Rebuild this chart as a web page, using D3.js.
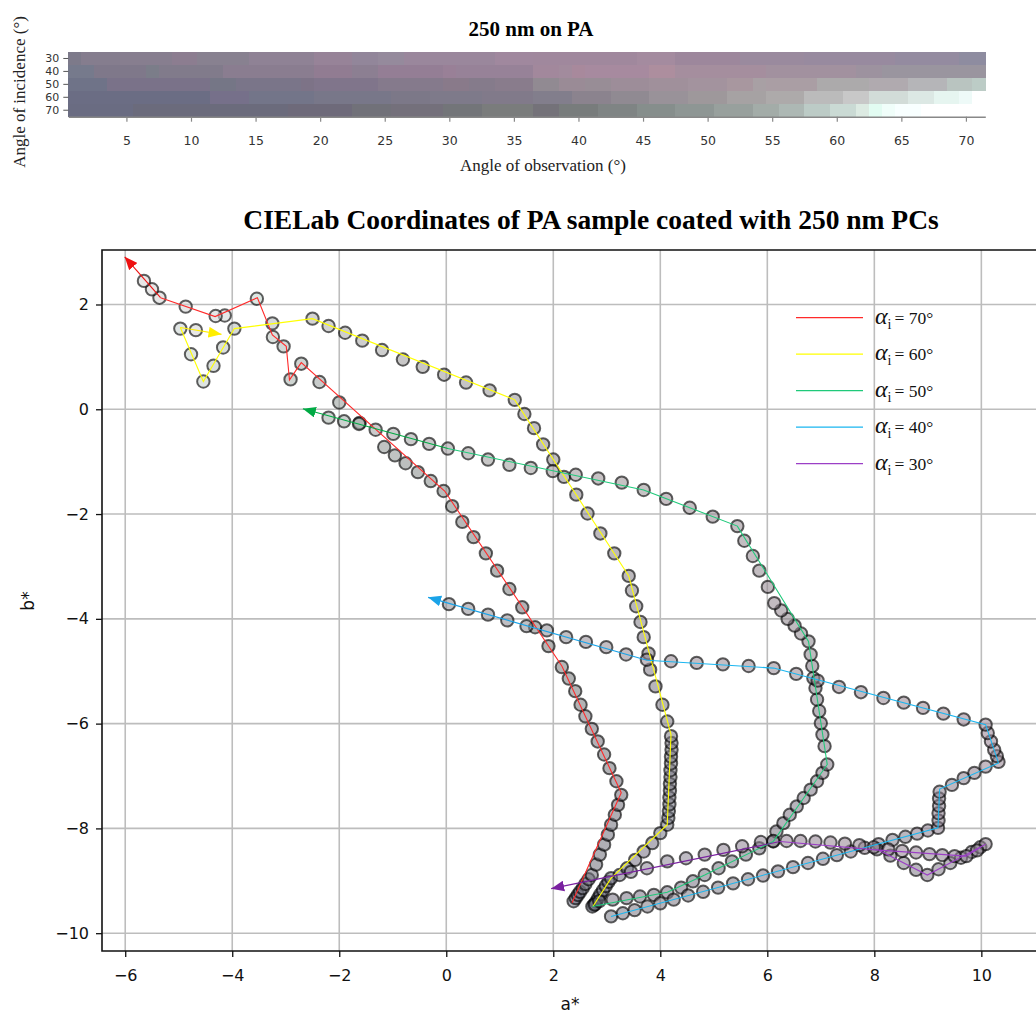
<!DOCTYPE html>
<html>
<head>
<meta charset="utf-8">
<style>
    body { margin: 0; background: #fff; }
    svg { display: block; }
</style>
</head>
<body>
<svg id="chart" width="1036" height="1017"></svg>
<script src="https://cdn.jsdelivr.net/npm/d3@7"></script>
<script>
    // ---- heatmap data: colour of every cell, run-length coded [colour, cells] ----
    const incidence = [30, 40, 50, 60, 70]
    const obsTicks = [5, 10, 15, 20, 25, 30, 35, 40, 45, 50, 55, 60, 65, 70]
    const row30 = [["#7d7a8a",1],["#857d8e",3],["#877e8f",4],["#8c7d90",2],["#888190",4],["#8f8295",5],["#978398",3],["#92869a",2],["#958a9c",2],["#9a879c",7],["#a0889e",3],["#a0889d",8],["#a48b9f",3],["#9d879c",5],["#9a8a9e",5],["#988a9f",7],["#948ba0",5],["#8e8ca0",2]]
    const row40 = [["#767a8c",2],["#7f788a",4],["#7b7d89",1],["#817b8b",5],["#8a7d90",7],["#917c92",3],["#8c7f92",2],["#947e95",5],["#998097",1],["#978298",6],["#a2889c",2],["#a28b9d",1],["#a8899c",1],["#a78a9f",5],["#ad8e9e",2],["#a58e9e",7],["#a2919f",7],["#9d929f",2],["#9a959f",8]]
    const row50 = [["#6f7388",3],["#7a7289",8],["#757686",2],["#7a7589",5],["#7d7387",1],["#80758b",5],["#857a8c",5],["#897a8a",2],["#857b8b",2],["#897c8c",3],["#918a92",2],["#9a8b96",2],["#988d96",2],["#9d8d99",3],["#a0909b",3],["#a3939e",3],["#a8979f",2],["#a8a0a4",1],["#aa9ea4",4],["#acaaab",4],["#b0aaaf",3],["#b5b5b8",3],["#b9c4c0",2],["#bcccc6",1]]
    const row60 = [["#6b6d84",11],["#76708a",3],["#737589",5],["#787789",6],["#7c7888",3],["#7e7a8a",4],["#817a8a",4],["#827e8c",3],["#8b838e",3],["#908a92",3],["#999299",3],["#9e989b",3],["#a6a2a3",3],["#adaaaa",3],["#bbbbbb",3],["#c8c8c8",2],["#d2dcd8",3],["#dce8e4",2],["#e6f5f0",2],["#eefaf8",1],["#ffffff",1]]
    const row70 = [["#6a6c82",5],["#6b6b7c",12],["#6e6a7a",5],["#717179",3],["#74707b",4],["#737579",3],["#7a7c7c",4],["#747279",2],["#787c7c",3],["#7f8484",3],["#868e8c",3],["#8e9694",3],["#98a09d",3],["#a3aca8",2],["#adb8b4",2],["#bccbc6",2],["#cadad4",2],["#dceae2",1],["#e2fcf2",1],["#f0fefa",1],["#f8ffff",2],["#ffffff",5]]

    // ---- scatter data: [a*, b*] points in order of observation angle ----
    const pts70 = [[2.38,-9.39],[2.42,-9.33],[2.46,-9.27],[2.50,-9.21],[2.55,-9.14],[2.60,-9.06],[2.66,-8.97],[2.72,-8.89],[2.80,-8.69],[2.87,-8.50],[2.95,-8.31],[3.02,-8.12],[3.08,-7.93],[3.15,-7.74],[3.21,-7.55],[3.27,-7.36],[3.18,-7.10],[3.05,-6.85],[2.95,-6.59],[2.83,-6.34],[2.72,-6.10],[2.60,-5.86],[2.51,-5.64],[2.41,-5.38],[2.29,-5.14],[2.16,-4.92],[1.91,-4.52],[1.66,-4.16],[1.42,-3.78],[1.18,-3.43],[0.95,-3.08],[0.74,-2.75],[0.51,-2.44],[0.30,-2.15],[0.11,-1.85],[-0.05,-1.56],[-0.29,-1.37],[-0.53,-1.20],[-0.76,-1.03],[-0.96,-0.88],[-1.16,-0.72],[-1.62,-0.26],[-2.00,0.13],[-2.37,0.52],[-2.71,0.87],[-2.91,0.57],[-3.04,1.20],[-3.24,1.38],[-3.54,2.11],[-4.14,1.79],[-4.31,1.78],[-4.87,1.96],[-5.36,2.13],[-5.50,2.29],[-5.65,2.45]]
    const pts60 = [[2.76,-9.46],[2.80,-9.40],[2.84,-9.33],[2.88,-9.26],[2.93,-9.18],[2.98,-9.10],[3.03,-9.02],[3.08,-8.95],[3.24,-8.89],[3.38,-8.76],[3.53,-8.60],[3.69,-8.44],[3.85,-8.28],[4.00,-8.09],[4.13,-7.93],[4.15,-7.80],[4.16,-7.67],[4.17,-7.54],[4.17,-7.41],[4.18,-7.28],[4.18,-7.15],[4.19,-7.02],[4.19,-6.89],[4.20,-6.76],[4.20,-6.63],[4.21,-6.50],[4.21,-6.37],[4.20,-6.24],[4.13,-5.96],[4.04,-5.64],[3.91,-5.29],[3.81,-4.97],[3.78,-4.66],[3.69,-4.35],[3.63,-4.06],[3.55,-3.76],[3.47,-3.46],[3.41,-3.18],[3.14,-2.75],[2.88,-2.37],[2.64,-1.99],[2.43,-1.63],[2.20,-1.29],[2.00,-0.96],[1.81,-0.67],[1.64,-0.36],[1.46,-0.09],[1.28,0.18],[0.81,0.36],[0.37,0.51],[-0.04,0.66],[-0.44,0.81],[-0.81,0.95],[-1.20,1.13],[-1.57,1.31],[-1.89,1.46],[-2.20,1.59],[-2.50,1.73],[-3.25,1.64],[-3.96,1.54],[-4.17,1.18],[-4.35,0.83],[-4.54,0.53],[-4.77,1.05],[-4.97,1.54],[-4.68,1.51]]
    const pts50 = [[2.73,-9.49],[2.78,-9.45],[2.86,-9.39],[3.11,-9.36],[3.37,-9.33],[3.62,-9.30],[3.88,-9.27],[4.13,-9.22],[4.39,-9.13],[4.61,-9.01],[4.83,-8.89],[5.09,-8.76],[5.34,-8.63],[5.60,-8.50],[5.85,-8.38],[6.11,-8.25],[6.17,-8.06],[6.30,-7.90],[6.42,-7.74],[6.55,-7.58],[6.68,-7.42],[6.81,-7.26],[6.93,-7.10],[7.03,-6.94],[7.12,-6.78],[7.07,-6.43],[7.03,-6.21],[7.00,-5.99],[6.97,-5.76],[6.93,-5.54],[6.90,-5.32],[6.86,-5.13],[6.84,-4.90],[6.81,-4.68],[6.77,-4.43],[6.63,-4.28],[6.51,-4.13],[6.38,-4.00],[6.26,-3.84],[6.13,-3.70],[6.01,-3.39],[5.85,-3.08],[5.73,-2.80],[5.57,-2.51],[5.44,-2.23],[4.98,-2.05],[4.55,-1.88],[4.11,-1.71],[3.69,-1.54],[3.28,-1.40],[2.84,-1.32],[2.42,-1.25],[1.99,-1.18],[1.58,-1.12],[1.18,-1.06],[0.78,-0.96],[0.41,-0.84],[0.03,-0.75],[-0.32,-0.66],[-0.66,-0.57],[-0.99,-0.47],[-1.32,-0.39],[-1.63,-0.28],[-1.91,-0.23],[-2.20,-0.16]]
    const pts40 = [[3.08,-9.68],[3.30,-9.62],[3.52,-9.56],[3.76,-9.49],[4.00,-9.43],[4.25,-9.36],[4.52,-9.28],[4.80,-9.21],[5.08,-9.13],[5.36,-9.05],[5.64,-8.97],[5.92,-8.90],[6.20,-8.82],[6.48,-8.74],[6.76,-8.66],[7.04,-8.58],[7.30,-8.51],[7.56,-8.44],[7.82,-8.37],[8.08,-8.30],[8.34,-8.22],[8.58,-8.16],[8.80,-8.10],[9.00,-8.04],[9.19,-7.99],[9.20,-7.85],[9.20,-7.71],[9.21,-7.57],[9.21,-7.43],[9.22,-7.30],[9.45,-7.17],[9.67,-7.04],[9.87,-6.94],[10.08,-6.82],[10.32,-6.73],[10.29,-6.62],[10.24,-6.50],[10.18,-6.34],[10.12,-6.18],[10.08,-6.02],[9.67,-5.92],[9.29,-5.81],[8.91,-5.70],[8.55,-5.60],[8.17,-5.51],[7.75,-5.40],[7.34,-5.30],[6.94,-5.18],[6.54,-5.05],[6.12,-4.94],[5.65,-4.90],[5.17,-4.87],[4.68,-4.84],[4.20,-4.81],[3.75,-4.78],[3.36,-4.68],[2.99,-4.54],[2.61,-4.44],[2.24,-4.35],[1.88,-4.22],[1.50,-4.14],[1.14,-4.03],[0.78,-3.92],[0.41,-3.81],[0.05,-3.72]]
    const pts30 = [[8.05,-8.40],[8.30,-8.52],[8.55,-8.66],[8.78,-8.79],[8.99,-8.89],[9.20,-8.78],[9.42,-8.66],[9.62,-8.56],[9.82,-8.45],[9.98,-8.36],[10.08,-8.30],[9.92,-8.42],[9.72,-8.53],[9.50,-8.53],[9.27,-8.51],[9.03,-8.49],[8.78,-8.46],[8.52,-8.43],[8.26,-8.40],[7.99,-8.36],[7.72,-8.32],[7.45,-8.29],[7.18,-8.27],[6.90,-8.25],[6.62,-8.24],[6.36,-8.24],[6.11,-8.24],[5.88,-8.26],[5.53,-8.34],[5.18,-8.41],[4.83,-8.50],[4.48,-8.57],[4.13,-8.63],[3.75,-8.76],[3.45,-8.83]]

    // line vertices for each series, last vertex is the arrow tip
    const line70 = [[2.35,-9.42],[3.27,-7.32],[2.16,-4.90],[-0.03,-1.56],[-2.71,0.89],[-2.93,0.56],[-2.99,1.20],[-3.25,1.42],[-3.53,2.13],[-4.32,1.77],[-5.34,2.13],[-6.01,2.91]]
    const line60 = [[2.74,-9.49],[3.08,-8.95],[4.13,-7.93],[4.20,-6.21],[3.41,-3.18],[1.28,0.18],[-2.50,1.73],[-3.96,1.54],[-4.54,0.53],[-4.97,1.56],[-4.20,1.43]]
    const line50 = [[2.73,-9.49],[4.13,-9.22],[4.83,-8.89],[6.11,-8.25],[7.12,-6.78],[6.77,-4.43],[5.44,-2.23],[3.69,-1.54],[0.03,-0.75],[-2.68,0.01]]
    const line40 = [[3.08,-9.68],[9.19,-7.99],[9.22,-7.25],[10.32,-6.75],[10.08,-6.02],[6.12,-4.94],[3.75,-4.79],[-0.34,-3.59]]
    const line30 = [[8.05,-8.40],[8.99,-8.89],[10.08,-8.30],[9.72,-8.53],[8.03,-8.41],[6.24,-8.25],[1.96,-9.15]]

    const xTicks = [-6, -4, -2, 0, 2, 4, 6, 8, 10]
    const yTicks = [2, 0, -2, -4, -6, -8, -10]

    // series table built from the arrays above (70 first, like the legend)
    const series = [
        { inc: 70, pts: pts70, line: line70, lineColor: "#ff2a2a", arrowColor: "#ee1111" },
        { inc: 60, pts: pts60, line: line60, lineColor: "#ffff00", arrowColor: "#ffee00" },
        { inc: 50, pts: pts50, line: line50, lineColor: "#1fc97a", arrowColor: "#00aa44" },
        { inc: 40, pts: pts40, line: line40, lineColor: "#1ab6f0", arrowColor: "#1aa3e8" },
        { inc: 30, pts: pts30, line: line30, lineColor: "#9b3fc6", arrowColor: "#7a22a0" }
    ]

    function expand(runs) {
        let out = []
        runs.forEach(r => { for (let i = 0; i < r[1]; i++) out.push(r[0]) })
        return out
    }
    const heat = { 30: expand(row30), 40: expand(row40), 50: expand(row50), 60: expand(row60), 70: expand(row70) }

    let svg = d3.select("#chart")
    const serif = "'Liberation Serif', 'DejaVu Serif', serif"
    const sans = "'DejaVu Sans', sans-serif"

    // ================= heatmap =================
    let hx = d3.scaleLinear().domain([0.5, 71.5]).range([68.3, 985.3])
    let hy = d3.scaleBand().domain(incidence).range([52, 116.7])

    let hm = svg.append("g")
    incidence.forEach(inc => {
        hm.selectAll(null)
            .data(heat[inc])
            .enter()
            .append("rect")
            .attr("x", (d, i) => hx(i + 0.5))
            .attr("y", hy(inc))
            .attr("width", hx(1.5) - hx(0.5) + 0.3)
            .attr("height", hy.bandwidth() + 0.3)
            .attr("fill", d => d)
            .attr("shape-rendering", "crispEdges")
    })

    let hxAxis = d3.axisBottom(hx).tickValues(obsTicks).tickSize(5).tickSizeOuter(0)
    let gHx = svg.append("g").attr("transform", "translate(0,116.7)").call(hxAxis)
    gHx.select(".domain").attr("stroke", "#888").attr("stroke-width", 1.5)
    gHx.selectAll(".tick line").attr("stroke", "#888").attr("stroke-width", 1.2)
    gHx.selectAll(".tick text").attr("font-family", sans).attr("font-size", 12.5).attr("fill", "#333").attr("dy", "1.6em")

    let hyAxis = d3.axisLeft(hy).tickSize(5).tickSizeOuter(0)
    let gHy = svg.append("g").attr("transform", "translate(68.3,0)").call(hyAxis)
    gHy.select(".domain").remove()
    gHy.selectAll(".tick line").attr("stroke", "#555")
    gHy.selectAll(".tick text").attr("font-family", sans).attr("font-size", 11).attr("fill", "#333").attr("dx", "-1")

    svg.append("text").attr("x", 531).attr("y", 36).attr("text-anchor", "middle")
        .attr("font-family", serif).attr("font-weight", "bold").attr("font-size", 21)
        .text("250 nm on PA")
    svg.append("text").attr("x", 543).attr("y", 171).attr("text-anchor", "middle")
        .attr("font-family", serif).attr("font-size", 17).attr("fill", "#222")
        .text("Angle of observation (°)")
    svg.append("text").attr("transform", "translate(25,92) rotate(-90)").attr("text-anchor", "middle")
        .attr("font-family", serif).attr("font-size", 17).attr("fill", "#222")
        .text("Angle of incidence (°)")

    // ================= scatter =================
    const pLeft = 102, pTop = 250, pBottom = 951, pRight = 1060
    let x = d3.scaleLinear().domain([-6.434, 11.47]).range([pLeft, pRight])
    let y = d3.scaleLinear().domain([-10.34, 3.04]).range([pBottom, pTop])

    svg.append("text").attr("x", 591).attr("y", 229).attr("text-anchor", "middle")
        .attr("font-family", serif).attr("font-weight", "bold").attr("font-size", 27.5)
        .text("CIELab Coordinates of PA sample coated with 250 nm PCs")

    let plot = svg.append("g")

    // grid
    plot.selectAll(".gx").data(xTicks).enter().append("line")
        .attr("x1", d => x(d)).attr("x2", d => x(d)).attr("y1", pTop).attr("y2", pBottom)
        .attr("stroke", "#bdbdbd").attr("stroke-width", 1.6)
    plot.selectAll(".gy").data(yTicks).enter().append("line")
        .attr("x1", pLeft).attr("x2", pRight).attr("y1", d => y(d)).attr("y2", d => y(d))
        .attr("stroke", "#bdbdbd").attr("stroke-width", 1.6)

    // circles, coloured from the matching heatmap row
    series.forEach(s => {
        let row = heat[s.inc]
        let n = s.pts.length
        plot.selectAll(null)
            .data(s.pts)
            .enter()
            .append("circle")
            .attr("cx", d => x(d[0]))
            .attr("cy", d => y(d[1]))
            .attr("r", 6.2)
            .attr("fill", (d, i) => d3.interpolateRgb(row[Math.round(i * 70 / (n - 1))], "#707070")(0.3))
            .attr("fill-opacity", 0.55)
            .attr("stroke", "#000")
            .attr("stroke-opacity", 0.62)
            .attr("stroke-width", 2)
    })

    // arrow heads
    let defs = svg.append("defs")
    series.forEach(s => {
        defs.append("marker")
            .attr("id", "arrow" + s.inc)
            .attr("viewBox", "0 0 12 10")
            .attr("refX", 12).attr("refY", 5)
            .attr("markerWidth", 13).attr("markerHeight", 11)
            .attr("markerUnits", "userSpaceOnUse")
            .attr("orient", "auto")
            .append("path").attr("d", "M0,0 L12,5 L0,10 Z").attr("fill", s.arrowColor)
    })

    let lineGen = d3.line().x(d => x(d[0])).y(d => y(d[1]))
    series.forEach(s => {
        let k = s.line.length
        plot.append("path")
            .attr("d", lineGen(s.line.slice(0, k - 1)))
            .attr("fill", "none").attr("stroke", s.lineColor).attr("stroke-width", 1.1)
        plot.append("path")
            .attr("d", lineGen(s.line.slice(k - 2)))
            .attr("fill", "none").attr("stroke", s.arrowColor).attr("stroke-width", 1.1)
            .attr("marker-end", "url(#arrow" + s.inc + ")")
    })

    // frame
    svg.append("path")
        .attr("d", `M${pRight},${pTop} H${pLeft} V${pBottom} H${pRight}`)
        .attr("fill", "none").attr("stroke", "#111").attr("stroke-width", 1.6)

    // axes
    let xAxis = d3.axisBottom(x).tickValues(xTicks).tickSize(6).tickFormat(d3.format("d"))
    let gx = svg.append("g").attr("transform", `translate(0,${pBottom})`).call(xAxis)
    gx.select(".domain").remove()
    gx.selectAll(".tick line").attr("stroke", "#111").attr("stroke-width", 1.3)
    gx.selectAll(".tick text").attr("font-family", sans).attr("font-size", 16).attr("fill", "#111").attr("dy", "1.3em")

    let yAxis = d3.axisLeft(y).tickValues(yTicks).tickSize(6).tickFormat(d3.format("d"))
    let gy = svg.append("g").attr("transform", `translate(${pLeft},0)`).call(yAxis)
    gy.select(".domain").remove()
    gy.selectAll(".tick line").attr("stroke", "#111").attr("stroke-width", 1.3)
    gy.selectAll(".tick text").attr("font-family", sans).attr("font-size", 16).attr("fill", "#111").attr("dx", "-4")

    svg.append("text").attr("x", 570).attr("y", 1010).attr("text-anchor", "middle")
        .attr("font-family", sans).attr("font-size", 17).attr("fill", "#111").text("a*")
    svg.append("text").attr("transform", "translate(34,601) rotate(-90)").attr("text-anchor", "middle")
        .attr("font-family", sans).attr("font-size", 17).attr("fill", "#111").text("b*")

    // legend
    let legend = svg.append("g")
    series.forEach((s, i) => {
        let ly = 317.7 + i * 36.5
        legend.append("line").attr("x1", 796).attr("x2", 863).attr("y1", ly).attr("y2", ly)
            .attr("stroke", s.lineColor).attr("stroke-width", 1.3)
        let t = legend.append("text").attr("x", 875).attr("y", ly + 6)
            .attr("font-family", serif).attr("font-size", 17.5).attr("fill", "#111")
        t.append("tspan").attr("font-style", "italic").attr("font-size", 24).text("α")
        t.append("tspan").attr("font-size", 14).attr("dy", 5).text("i")
        t.append("tspan").attr("dy", -5).attr("dx", 3).text("= " + s.inc + "°")
    })
</script>
</body>
</html>
